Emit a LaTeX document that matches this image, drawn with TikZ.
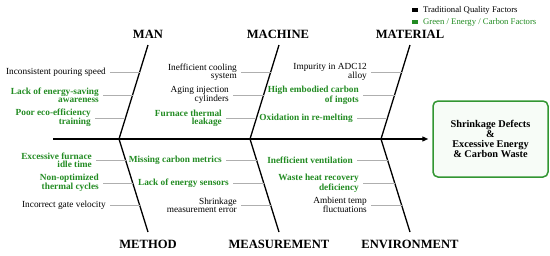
\documentclass[tikz,border=0pt]{standalone}
\usepackage{fontspec}
\setmainfont{Liberation Serif}
\usetikzlibrary{calc,arrows.meta}
\definecolor{gtxt}{RGB}{34,139,34}
\definecolor{gbox}{RGB}{50,150,50}
\definecolor{gfill}{RGB}{247,252,247}
\definecolor{ribc}{RGB}{175,175,175}
\begin{document}
\begin{tikzpicture}[x=1pt,y=-1pt,
  cat/.style={font=\fontsize{12.6}{14}\selectfont\bfseries, inner sep=0pt},
  trad/.style={font=\fontsize{9.3}{8}\selectfont, align=right, anchor=east, inner xsep=4pt, inner ysep=0pt, text=black},
  grn/.style={trad, font=\fontsize{9.3}{8}\selectfont\bfseries, text=gtxt},
  bone/.style={line width=1.3pt, black},
  rib/.style={draw=ribc, line width=0.7pt},
  legtxt/.style={font=\fontsize{8.7}{10}\selectfont, anchor=west, inner sep=0pt}]
\useasboundingbox (0,0) rectangle (550,255);

% box
\node[draw=gbox, fill=gfill, line width=1.5pt, rounded corners=5pt,
  minimum width=115pt, minimum height=76pt, align=center,
  font=\fontsize{10.3}{10}\selectfont\bfseries, inner sep=0pt] (box) at (490.5,139)
  {Shrinkage Defects\\\&\\Excessive Energy\\\& Carbon Waste};

% spine
\coordinate (S) at (53,139);
\draw[line width=1.3pt, -{Triangle[length=6pt,width=5pt]}, shorten >=4pt] (S) -- (box.west);

% bone coordinates
\coordinate (manJ) at (119,139);  \coordinate (manT) at (148,45);  \coordinate (methB) at (148,232);
\coordinate (machJ) at (250,139); \coordinate (machT) at (279,45); \coordinate (measB) at (279,232);
\coordinate (matJ) at (381,139);  \coordinate (matT) at (410,45);  \coordinate (envB) at (410,232);
\draw[bone] (manJ) -- (manT);  \draw[bone] (manJ) -- (methB);
\draw[bone] (machJ) -- (machT); \draw[bone] (machJ) -- (measB);
\draw[bone] (matJ) -- (matT);  \draw[bone] (matJ) -- (envB);

% category labels
\node[cat] (lman) at (148,34) {MAN};
\node[cat] (lmach) at (278,34) {MACHINE};
\node[cat] (lmat) at (410,34) {MATERIAL};
\node[cat] (lmeth) at (148,244) {METHOD};
\node[cat] (lmeas) at (279,244) {MEASUREMENT};
\node[cat] (lenv) at (410,244) {ENVIRONMENT};

% rib coordinates on bones
\foreach \b/\j/\t in {ma/manJ/manT, mc/machJ/machT, mt/matJ/matT}{
  \coordinate (\b1) at ($(\j)!0.713!(\t)$);
  \coordinate (\b2) at ($(\j)!0.468!(\t)$);
  \coordinate (\b3) at ($(\j)!0.2234!(\t)$);
}
\foreach \b/\j/\t in {me/manJ/methB, ms/machJ/measB, en/matJ/envB}{
  \coordinate (\b1) at ($(\j)!0.2258!(\t)$);
  \coordinate (\b2) at ($(\j)!0.473!(\t)$);
  \coordinate (\b3) at ($(\j)!0.7097!(\t)$);
}

% MAN
\node[trad] (a1) at (110,72) {Inconsistent pouring speed};
\node[grn]  (a2) at (103,95) {Lack of energy-saving\\awareness};
\node[grn]  (a3) at (95,118) {Poor eco-efficiency\\training};
% MACHINE
\node[trad] (b1) at (241,72) {Inefficient cooling\\system};
\node[trad] (b2) at (233,95) {Aging injection\\cylinders};
\node[grn]  (b3) at (226,118) {Furnace thermal\\leakage};
% MATERIAL
\node[trad] (c1) at (371,72) {Impurity in ADC12\\alloy};
\node[grn]  (c2) at (363,95) {High embodied carbon\\of ingots};
\node[grn]  (c3) at (357,118) {Oxidation in re-melting};
% METHOD
\node[grn]  (d1) at (96,160) {Excessive furnace\\idle time};
\node[grn]  (d2) at (103,183) {Non-optimized\\thermal cycles};
\node[trad] (d3) at (110,205) {Incorrect gate velocity};
% MEASUREMENT
\node[grn]  (e1) at (226,160) {Missing carbon metrics};
\node[grn]  (e2) at (233,183) {Lack of energy sensors};
\node[trad] (e3) at (241,205) {Shrinkage\\measurement error};
% ENVIRONMENT
\node[grn]  (f1) at (357,160) {Inefficient ventilation};
\node[grn]  (f2) at (363,183) {Waste heat recovery\\deficiency};
\node[trad] (f3) at (371,205) {Ambient temp\\fluctuations};

% ribs
\foreach \n/\c in {a1/ma1,a2/ma2,a3/ma3,b1/mc1,b2/mc2,b3/mc3,c1/mt1,c2/mt2,c3/mt3,
                   d1/me1,d2/me2,d3/me3,e1/ms1,e2/ms2,e3/ms3,f1/en1,f2/en2,f3/en3}{
  \draw[rib] (\n.east) -- (\n.east -| \c);
}

% legend
\node[fill=black, minimum width=5.5pt, minimum height=3.5pt, inner sep=0pt] (k1) at (415,10) {};
\node[legtxt] (k1t) at (423,10) {Traditional Quality Factors};
\node[fill=gtxt, minimum width=5.5pt, minimum height=3.5pt, inner sep=0pt] (k2) at (415,22) {};
\node[legtxt, text=gtxt] (k2t) at (423,22) {Green / Energy / Carbon Factors};
\end{tikzpicture}
\end{document}
